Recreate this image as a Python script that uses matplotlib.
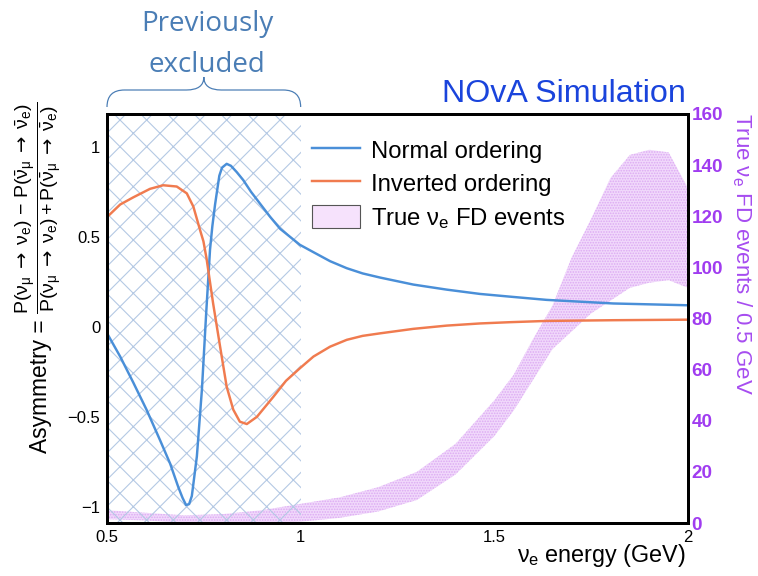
import matplotlib
matplotlib.use('Agg')
import matplotlib.pyplot as plt
import matplotlib.transforms as mtransforms
from matplotlib.lines import Line2D
from matplotlib.patches import Patch, PathPatch
from matplotlib.path import Path

# asymmetry curves
energy_no = [0.5, 0.534, 0.568, 0.602, 0.637, 0.663, 0.684, 0.695, 0.704, 0.712, 0.719,
             0.732, 0.745, 0.756, 0.766, 0.772, 0.779, 0.79, 0.797, 0.809, 0.82, 0.835,
             0.852, 0.872, 0.895, 0.921, 0.947, 0.998, 1.033, 1.076, 1.119, 1.16, 1.205,
             1.291, 1.377, 1.463, 1.54, 1.635, 1.807, 2.0]
asym_no = [-0.035, -0.165, -0.31, -0.46, -0.63, -0.76, -0.89, -0.95, -0.99, -0.985, -0.94,
           -0.72, -0.35, 0.074, 0.43, 0.56, 0.68, 0.84, 0.885, 0.906, 0.895, 0.86,
           0.815, 0.75, 0.685, 0.612, 0.545, 0.456, 0.415, 0.365, 0.326, 0.297, 0.274,
           0.235, 0.207, 0.183, 0.168, 0.15, 0.13, 0.12]

energy_io = [0.5, 0.534, 0.568, 0.611, 0.645, 0.68, 0.706, 0.723, 0.74, 0.749, 0.757,
             0.774, 0.792, 0.809, 0.826, 0.843, 0.861, 0.887, 0.929, 0.962, 0.998, 1.033,
             1.076, 1.119, 1.16, 1.205, 1.291, 1.377, 1.463, 1.54, 1.635, 1.807, 2.0]
asym_io = [0.61, 0.68, 0.72, 0.767, 0.787, 0.78, 0.742, 0.668, 0.54, 0.475, 0.38,
           0.13, -0.11, -0.333, -0.46, -0.527, -0.54, -0.5, -0.39, -0.3, -0.23, -0.165,
           -0.11, -0.072, -0.05, -0.036, -0.011, 0.007, 0.019, 0.026, 0.033, 0.037, 0.04]

# true nu_e FD events band (right axis)
band_e = [0.5, 0.6, 0.7, 0.8, 0.9, 1.0, 1.1, 1.2, 1.3, 1.4, 1.5, 1.55, 1.6, 1.65, 1.7,
          1.75, 1.8, 1.85, 1.9, 1.95, 2.0]
band_hi = [5, 4, 3, 3.5, 5, 7.5, 10, 14, 20, 31, 48, 58, 72, 85, 104, 119, 135, 144, 146, 145, 131]
band_lo = [1.5, 1, 0, 0, 0, 0.5, 2, 4.5, 9, 19, 34, 44, 56, 68, 75, 82, 87, 92, 94, 95, 92]

excluded = (0.5, 1.0)
x_ticks = [0.5, 1, 1.5, 2]
x_tick_labels = ['0.5', '1', '1.5', '2']
y_ticks = [-1, -0.5, 0, 0.5, 1]
y_tick_labels = ['\u22121', '\u22120.5', '0', '0.5', '1']
y2_ticks = [0, 20, 40, 60, 80, 100, 120, 140, 160]

blue = '#4a8fd8'
orange = '#f07b4f'
violet = '#a03cf0'

plt.rcParams['font.family'] = ['Liberation Sans', 'DejaVu Sans']
plt.rcParams['mathtext.fontset'] = 'custom'
plt.rcParams['mathtext.rm'] = 'Liberation Sans'
plt.rcParams['mathtext.it'] = 'Liberation Sans'
plt.rcParams['mathtext.bf'] = 'Liberation Sans:bold'
plt.rcParams['mathtext.sf'] = 'DejaVu Sans'
plt.rcParams['hatch.linewidth'] = 1.0

W, H, DPI = 758, 576, 80
fig = plt.figure(figsize=(W / DPI, H / DPI), dpi=DPI)
ax = fig.add_axes([107 / W, 1 - 523 / H, 581 / W, 409 / H])
ax2 = ax.twinx()
ax.set_zorder(ax2.get_zorder() + 1)
ax.patch.set_visible(False)

ax2.fill_between(band_e, band_lo, band_hi, facecolor='#f1d9fb', edgecolor='#dca9f3',
                 hatch='.....', linewidth=0)
ax.axvspan(excluded[0], excluded[1], facecolor='none', edgecolor='#b4c9e4', hatch='x',
           linewidth=0)
ax.plot(energy_no, asym_no, color=blue, lw=2.2)
ax.plot(energy_io, asym_io, color=orange, lw=2.2)

ax.set_xlim(0.5, 2.0)
ax.set_ylim(-1.09, 1.183)
ax2.set_ylim(0, 160)
ax.set_xticks(x_ticks)
ax.set_xticklabels(x_tick_labels)
ax.set_yticks(y_ticks)
ax.set_yticklabels(y_tick_labels)
ax.tick_params(length=0, labelsize=15, pad=6)
ax2.set_yticks(y2_ticks)
ax2.set_yticklabels([str(v) for v in y2_ticks], color=violet, fontweight='bold')
ax2.tick_params(length=0, labelsize=17, pad=3)
for s in ax.spines.values():
    s.set_linewidth(2.7)
for s in ax2.spines.values():
    s.set_visible(False)

handles = [Line2D([], [], color=blue, lw=2.2),
           Line2D([], [], color=orange, lw=2.2),
           Patch(facecolor='#f6e2fc', edgecolor='#555555', lw=1)]
labels = ['Normal ordering', 'Inverted ordering', r'True $\nu_{e}$ FD events']
ax.legend(handles, labels, loc='upper left', bbox_to_anchor=(312 / W, 1 - 138 / H),
          bbox_transform=fig.transFigure, frameon=False, fontsize=21.5, handlelength=2.0,
          handleheight=1.1, handletextpad=0.45, labelspacing=0.38, borderpad=0,
          borderaxespad=0)

# axis titles
fig.text(686 / W, 1 - 562 / H, r'$\nu_{e}$ energy (GeV)', ha='right', va='baseline', fontsize=21)
fig.text(742 / W, 1 - 113 / H, r'True $\nu_{e}$ FD events / 0.5 GeV', rotation=-90,
         ha='center', va='top', fontsize=20, color='#a64cf0')
fig.text(41 / W, 1 - 386 / H, 'Asymmetry =', rotation=90, ha='center', va='center',
         fontsize=20.5)
arr = r'\;\mathsf{\rightarrow}\;'
fig.text(38 / W, 1 - 208 / H,
         r'$\dfrac{P(\nu_{\mu}' + arr + r'\nu_{e})\ \mathrm{-}\ P(\bar{\nu}_{\mu}' + arr
         + r'\bar{\nu}_{e})}{P(\nu_{\mu}' + arr + r'\nu_{e}) + P(\bar{\nu}_{\mu}' + arr
         + r'\bar{\nu}_{e})}$',
         rotation=90, ha='center', va='center', fontsize=17.5)

fig.text(686 / W, 1 - 102 / H, 'NOvA Simulation', ha='right', va='baseline', fontsize=29,
         color='#1a44dc')

# "previously excluded" brace above the hatched region
exc_col = '#4a7db5'
fig.text(207 / W, 1 - 31 / H, 'Previously', family='Open Sans', fontsize=25, color=exc_col,
         ha='center', va='baseline')
fig.text(207 / W, 1 - 72 / H, 'excluded', family='Open Sans', fontsize=25, color=exc_col,
         ha='center', va='baseline')
trans = mtransforms.blended_transform_factory(ax.transData, fig.transFigure)
lo, hi = excluded
mid = (lo + hi) / 2
d = 0.045
yb, yh, yt = 1 - 107 / H, 1 - 90 / H, 1 - 77 / H
verts = [(lo, yb), (lo, yh), (lo + d, yh),
         (mid - d, yh), (mid, yh), (mid, yt),
         (mid, yh), (mid + d, yh),
         (hi - d, yh), (hi, yh), (hi, yb)]
codes = [Path.MOVETO, Path.CURVE3, Path.CURVE3,
         Path.LINETO, Path.CURVE3, Path.CURVE3,
         Path.CURVE3, Path.CURVE3,
         Path.LINETO, Path.CURVE3, Path.CURVE3]
fig.patches.append(PathPatch(Path(verts, codes), transform=trans, facecolor='none',
                             edgecolor=exc_col, lw=1.1))

fig.savefig('out.png', dpi=DPI)
